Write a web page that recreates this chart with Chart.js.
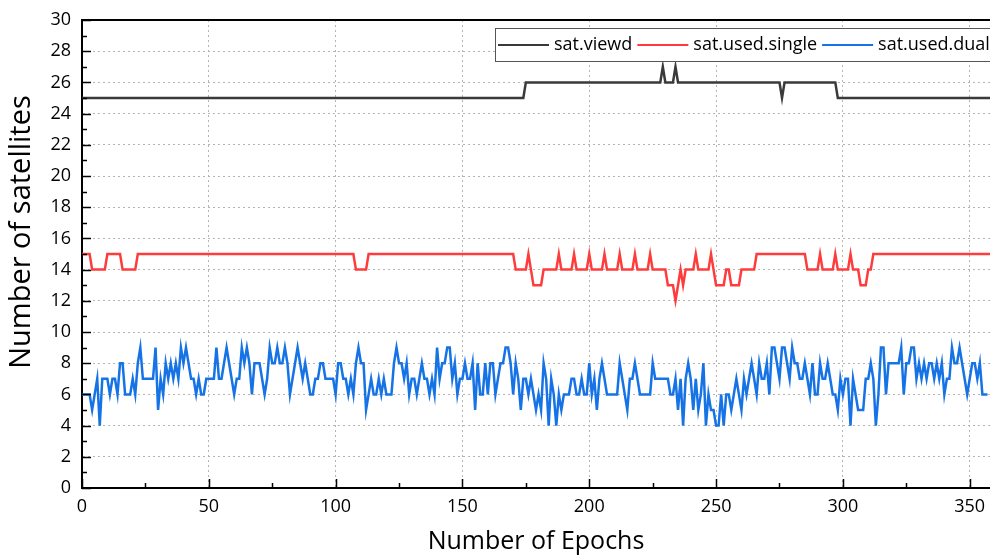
<!DOCTYPE html>
<html>
<head>
<meta charset="utf-8">
<script src="https://cdn.jsdelivr.net/npm/chart.js@4.4.0/dist/chart.umd.min.js"></script>
<style>
  html, body { margin: 0; padding: 0; background: #fff; }
  #satChart { display: block; }
</style>
</head>
<body>
<canvas id="satChart" width="990" height="557"></canvas>
<script>
// satellite counts per epoch
const seriesNames = ['sat.viewd', 'sat.used.single', 'sat.used.dual'];
const seriesColors = ['#3a3a3a', '#ff3c3c', '#1673e6'];

const satViewed = [
  25,25,25,25,25,25,25,25,25,25, 25,25,25,25,25,25,25,25,25,25,
  25,25,25,25,25,25,25,25,25,25, 25,25,25,25,25,25,25,25,25,25,
  25,25,25,25,25,25,25,25,25,25, 25,25,25,25,25,25,25,25,25,25,
  25,25,25,25,25,25,25,25,25,25, 25,25,25,25,25,25,25,25,25,25,
  25,25,25,25,25,25,25,25,25,25, 25,25,25,25,25,25,25,25,25,25,
  25,25,25,25,25,25,25,25,25,25, 25,25,25,25,25,25,25,25,25,25,
  25,25,25,25,25,25,25,25,25,25, 25,25,25,25,25,25,25,25,25,25,
  25,25,25,25,25,25,25,25,25,25, 25,25,25,25,25,25,25,25,25,25,
  25,25,25,25,25,25,25,25,25,25, 25,25,25,25,25,26,26,26,26,26,
  26,26,26,26,26,26,26,26,26,26, 26,26,26,26,26,26,26,26,26,26,
  26,26,26,26,26,26,26,26,26,26, 26,26,26,26,26,26,26,26,26,26,
  26,26,26,26,26,26,26,26,26,27, 26,26,26,26,27,26,26,26,26,26,
  26,26,26,26,26,26,26,26,26,26, 26,26,26,26,26,26,26,26,26,26,
  26,26,26,26,26,26,26,26,26,26, 26,26,26,26,26,26,25,26,26,26,
  26,26,26,26,26,26,26,26,26,26, 26,26,26,26,26,26,26,26,25,25,
  25,25,25,25,25,25,25,25,25,25, 25,25,25,25,25,25,25,25,25,25,
  25,25,25,25,25,25,25,25,25,25, 25,25,25,25,25,25,25,25,25,25,
  25,25,25,25,25,25,25,25,25,25, 25,25,25,25,25,25,25,25,25
];

const satUsedSingle = [
  15,15,15,15,14,14,14,14,14,14, 15,15,15,15,15,15,14,14,14,14,
  14,14,15,15,15,15,15,15,15,15, 15,15,15,15,15,15,15,15,15,15,
  15,15,15,15,15,15,15,15,15,15, 15,15,15,15,15,15,15,15,15,15,
  15,15,15,15,15,15,15,15,15,15, 15,15,15,15,15,15,15,15,15,15,
  15,15,15,15,15,15,15,15,15,15, 15,15,15,15,15,15,15,15,15,15,
  15,15,15,15,15,15,15,15,14,14, 14,14,14,15,15,15,15,15,15,15,
  15,15,15,15,15,15,15,15,15,15, 15,15,15,15,15,15,15,15,15,15,
  15,15,15,15,15,15,15,15,15,15, 15,15,15,15,15,15,15,15,15,15,
  15,15,15,15,15,15,15,15,15,15, 15,14,14,14,14,14,15,14,13,13,
  13,13,14,14,14,14,14,14,15,14, 14,14,14,14,15,14,14,14,14,14,
  15,14,14,14,14,14,15,14,14,14, 14,14,15,14,14,14,14,14,15,14,
  14,14,14,14,15,14,14,14,14,14, 14,13,13,13,12,13,14,13,14,14,
  14,14,15,14,14,14,14,14,15,14, 13,13,13,13,14,14,13,13,13,13,
  14,14,14,14,14,14,15,15,15,15, 15,15,15,15,15,15,15,15,15,15,
  15,15,15,15,15,15,14,14,14,14, 14,15,14,14,14,14,14,15,14,14,
  14,14,14,15,14,14,14,13,13,13, 14,14,15,15,15,15,15,15,15,15,
  15,15,15,15,15,15,15,15,15,15, 15,15,15,15,15,15,15,15,15,15,
  15,15,15,15,15,15,15,15,15,15, 15,15,15,15,15,15,15,15,15
];

const satUsedDual = [
  6,6,6,6,5,6,7,4,7,7, 7,6,7,7,6,8,8,6,6,6,
  7,6,8,9,7,7,7,7,7,9, 5,7,6,8,7,8,7,8,7,9,
  8,9,8,7,7,6,7,6,6,7, 7,7,7,9,7,7,8,9,8,7,
  6,7,7,9,8,9,8,6,8,8, 8,7,6,7,9,8,8,9,8,8,
  9,8,6,7,8,9,8,7,8,7, 6,6,7,7,8,8,7,7,7,7,
  6,8,8,7,7,6,7,6,8,9, 8,8,5,6,7,6,6,7,6,7,
  6,6,6,8,9,8,8,7,8,6, 7,7,6,7,8,7,7,6,7,6,
  9,7,8,8,9,9,7,8,6,7, 7,8,7,7,8,5,8,6,6,8,
  6,8,8,6,7,8,8,9,9,8, 6,8,7,5,7,7,6,7,6,
  5,6,5,8,7,4,7,6,4,6, 5,6,6,6,7,7,6,6,7,6,
  6,8,6,7,5,7,8,7,6,6, 6,6,6,8,7,6,5,7,7,8,
  7,6,6,6,6,6,8,7,7,7, 7,7,7,6,6,7,5,7,4,7,
  8,7,5,7,5,6,8,4,6,5, 5,4,4,6,4,6,6,5,6,7,
  6,5,7,6,7,8,7,6,8,7, 7,8,6,9,9,8,7,9,9,8,
  7,9,8,8,7,7,8,7,6,8, 6,6,8,7,7,8,7,6,6,5,
  7,6,7,7,4,7,6,5,5,5, 7,7,8,7,4,6,9,9,6,8,
  8,8,8,8,9,6,8,8,9,9, 7,8,7,8,7,8,8,7,8,7,
  8,6,7,7,9,8,8,9,8,7, 6,7,8,8,7,8,6,6,6
];

const xTickValues = [0, 50, 100, 150, 200, 250, 300, 350];
const yTickValues = [0, 2, 4, 6, 8, 10, 12, 14, 16, 18, 20, 22, 24, 26, 28, 30];
const yTitle = 'Number of satellites';

const toPoints = arr => arr.map((v, i) => ({ x: i, y: v }));
const allSeries = [satViewed, satUsedSingle, satUsedDual];

Chart.defaults.font.family = "'Open Sans', 'DejaVu Sans', sans-serif";
Chart.defaults.color = '#000';

// minor ticks, top border line, y title and the boxed legend inside the plot
const frameExtras = {
  id: 'frameExtras',
  afterDraw(chart) {
    const { ctx, chartArea: a, scales: { x, y } } = chart;
    ctx.save();
    ctx.strokeStyle = '#000';
    ctx.lineWidth = 1.5;
    ctx.beginPath();
    for (let v = 0; v <= 30; v++) {
      const py = Math.round(y.getPixelForValue(v)) + 0.5;
      const len = v % 2 ? 5 : 9;
      ctx.moveTo(a.left, py);
      ctx.lineTo(a.left + len, py);
    }
    for (let v = 0; v <= x.max; v += 25) {
      const px = Math.round(x.getPixelForValue(v)) + 0.5;
      const len = v % 50 ? 5 : 9;
      ctx.moveTo(px, a.bottom);
      ctx.lineTo(px, a.bottom - len);
    }
    ctx.stroke();

    ctx.lineWidth = 2;
    ctx.beginPath();
    ctx.moveTo(a.left, a.top);
    ctx.lineTo(a.right, a.top);
    ctx.stroke();

    // rotated y title, sits a little above the plot's middle
    ctx.save();
    ctx.translate(22, 232);
    ctx.rotate(-Math.PI / 2);
    ctx.font = "29px 'Open Sans', sans-serif";
    ctx.fillStyle = '#000';
    ctx.textAlign = 'center';
    ctx.textBaseline = 'middle';
    ctx.fillText(yTitle, 0, 0);
    ctx.restore();

    // legend
    const boxX = 495, boxY = 28, boxH = 33;
    ctx.fillStyle = '#fff';
    ctx.fillRect(boxX, boxY, a.right - boxX + 5, boxH);
    ctx.strokeStyle = '#555';
    ctx.lineWidth = 1;
    ctx.strokeRect(boxX + 0.5, boxY + 0.5, a.right - boxX + 5, boxH);
    ctx.font = "18px 'Open Sans', sans-serif";
    ctx.textBaseline = 'middle';
    let cx = boxX + 3;
    const cy = boxY + boxH / 2 + 0.5;
    seriesNames.forEach((name, i) => {
      ctx.strokeStyle = seriesColors[i];
      ctx.lineWidth = 2;
      ctx.beginPath();
      ctx.moveTo(cx, cy);
      ctx.lineTo(cx + 51, cy);
      ctx.stroke();
      cx += 56;
      ctx.fillStyle = '#000';
      ctx.fillText(name, cx, cy);
      cx += ctx.measureText(name).width + 5;
    });
    ctx.restore();
  }
};

const ctx = document.getElementById('satChart').getContext('2d');

const satChart = new Chart(ctx, {
  type: 'line',
  data: {
    datasets: allSeries.map((arr, i) => ({
      label: seriesNames[i],
      data: toPoints(arr),
      borderColor: seriesColors[i],
      backgroundColor: seriesColors[i],
      borderWidth: 2.5,
      pointRadius: 0,
      tension: 0,
      fill: false
    }))
  },
  options: {
    responsive: false,
    animation: false,
    devicePixelRatio: 1,
    layout: { padding: { top: 20, right: 0, left: 0, bottom: 0 } },
    plugins: {
      legend: { display: false },
      tooltip: { enabled: false }
    },
    scales: {
      x: {
        type: 'linear',
        min: 0,
        max: 358,
        afterBuildTicks: s => { s.ticks = xTickValues.map(v => ({ value: v })); },
        afterFit: s => { s.height = 69; s.paddingLeft = 0; s.paddingRight = 0; },
        ticks: { font: { size: 18 }, padding: 8, maxRotation: 0 },
        grid: { color: '#b4b4b4', lineWidth: 1, drawTicks: false },
        border: { display: true, color: '#000', width: 2, dash: [2, 3] },
        title: {
          display: true,
          text: 'Number of Epochs',
          font: { size: 25 },
          padding: { top: 0, bottom: 0 }
        }
      },
      y: {
        min: 0,
        max: 30,
        afterBuildTicks: s => { s.ticks = yTickValues.map(v => ({ value: v })); },
        afterFit: s => { s.width = 82; s.paddingTop = 0; s.paddingBottom = 0; },
        ticks: { font: { size: 18 }, padding: 11 },
        grid: { color: '#b4b4b4', lineWidth: 1, drawTicks: false },
        border: { display: true, color: '#000', width: 2, dash: [2, 3] }
      }
    }
  },
  plugins: [frameExtras]
});
</script>
</body>
</html>
